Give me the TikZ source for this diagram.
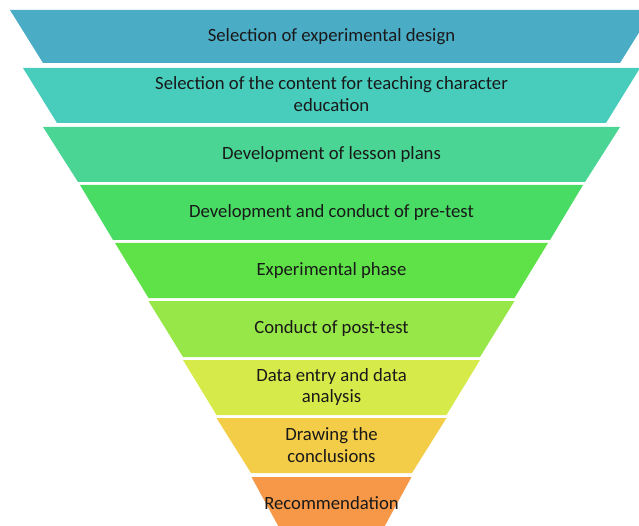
\documentclass[tikz,border=0pt]{standalone}
\usepackage{fontspec}
\setmainfont{Carlito}
\usepackage{tikz}

\definecolor{bandA}{RGB}{75,172,198}
\definecolor{bandB}{RGB}{72,205,188}
\definecolor{bandC}{RGB}{74,213,148}
\definecolor{bandD}{RGB}{72,220,100}
\definecolor{bandE}{RGB}{95,225,72}
\definecolor{bandF}{RGB}{152,231,72}
\definecolor{bandG}{RGB}{214,234,74}
\definecolor{bandH}{RGB}{243,204,72}
\definecolor{bandI}{RGB}{246,152,72}
\definecolor{txt}{RGB}{25,25,25}

\tikzset{
	band/.style={draw=none},
	lbl/.style={font=\fontsize{18.7}{21.5}\selectfont, text=txt, align=center}
}

\begin{document}
\begin{tikzpicture}[x=1pt,y=-1pt]
	\useasboundingbox (0,0) rectangle (639,526);
	\draw[band,fill=bandA] (10,10) -- (653,10) -- (620,63) -- (43,63) -- cycle;
	\draw[band,fill=bandB] (23,68) -- (640,68) -- (606,123) -- (57,123) -- cycle;
	\draw[band,fill=bandC] (43,127) -- (620,127) -- (585,182) -- (78,182) -- cycle;
	\draw[band,fill=bandD] (80,185) -- (583,185) -- (550,240) -- (113,240) -- cycle;
	\draw[band,fill=bandE] (115,243) -- (548,243) -- (514.5,298) -- (148.5,298) -- cycle;
	\draw[band,fill=bandF] (148.5,301) -- (514.5,301) -- (480,357) -- (183,357) -- cycle;
	\draw[band,fill=bandG] (183,360) -- (480,360) -- (446.5,415) -- (216.5,415) -- cycle;
	\draw[band,fill=bandH] (216.5,418) -- (446.5,418) -- (412,473) -- (251,473) -- cycle;
	\draw[band,fill=bandI] (251.5,477) -- (411.5,477) -- (381.5,532) -- (281.5,532) -- cycle;
	\node[lbl] (sel) at (331.5,36.5) {Selection of experimental design};
	\node[lbl] (cont) at (331.5,94) {Selection of the content for teaching character\\education};
	\node[lbl] (plan) at (331.5,154.5) {Development of lesson plans};
	\node[lbl] (pre) at (331.5,212.5) {Development and conduct of pre-test};
	\node[lbl] (exper) at (331.5,270.5) {Experimental phase};
	\node[lbl] (post) at (331.5,329) {Conduct of post-test};
	\node[lbl] (data) at (331.5,387) {Data entry and data\\analysis};
	\node[lbl] (concl) at (331.5,445) {Drawing the\\conclusions};
	\node[lbl] (recom) at (331.5,503) {Recommendation};
\end{tikzpicture}
\end{document}
